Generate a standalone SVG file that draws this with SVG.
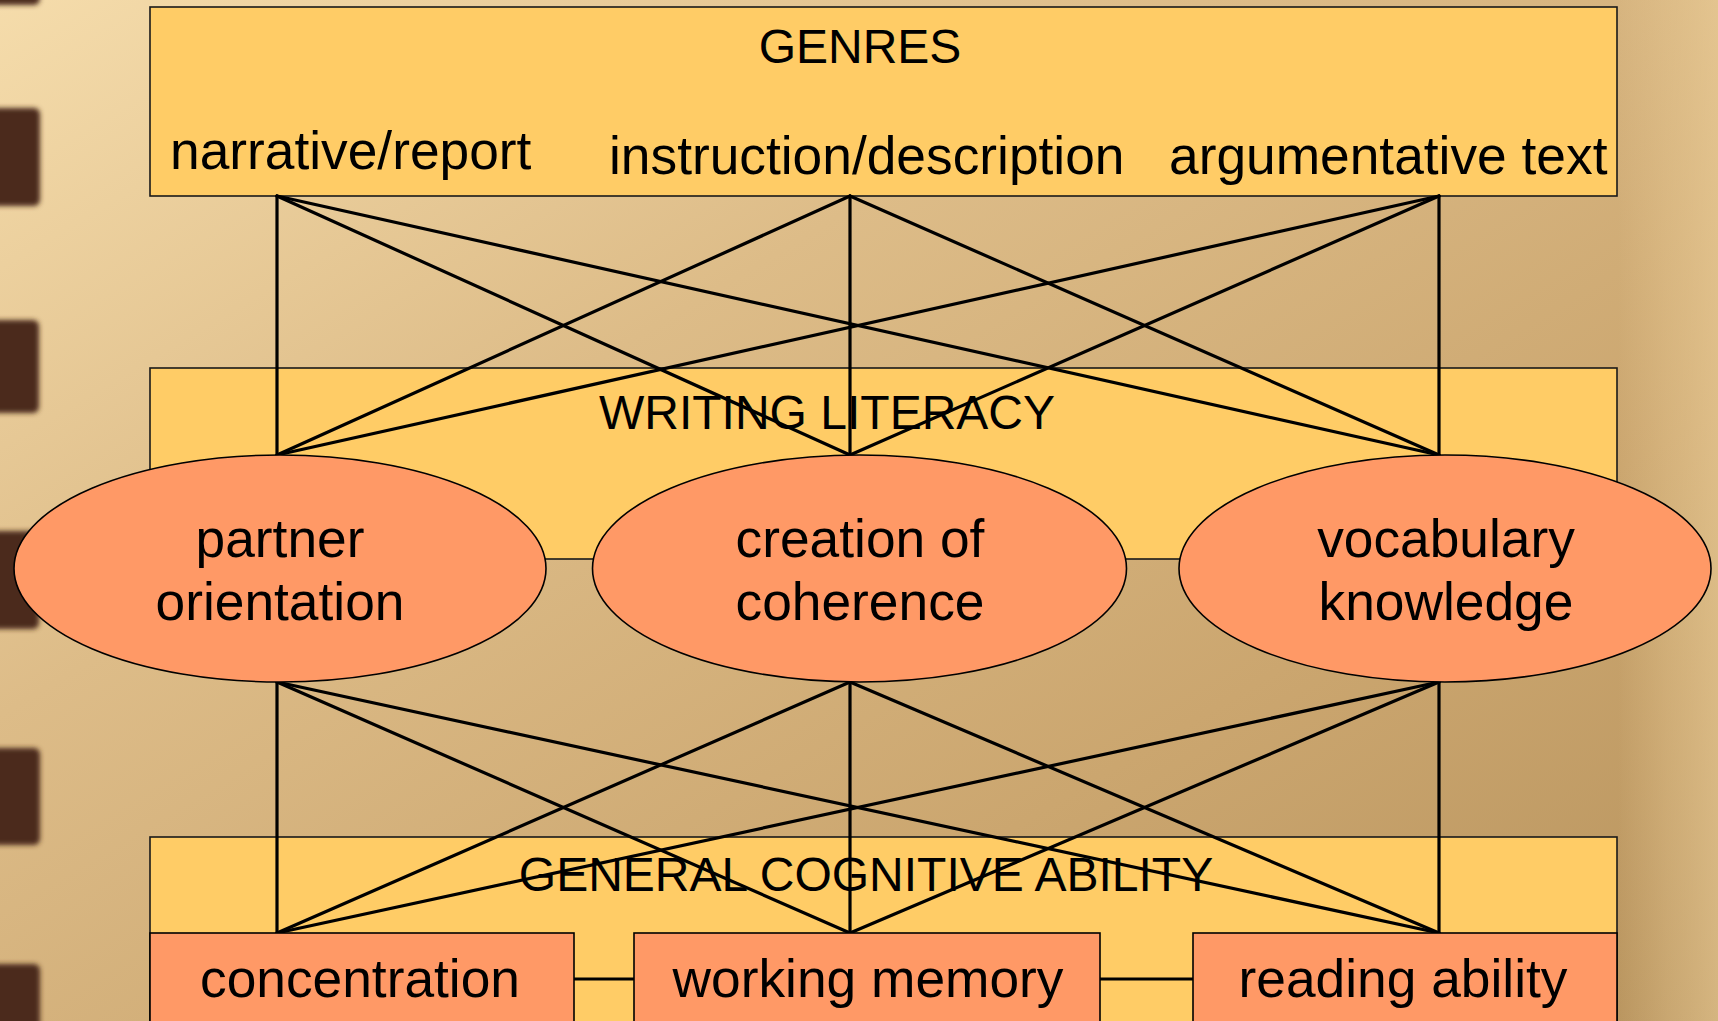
<svg xmlns="http://www.w3.org/2000/svg" width="1718" height="1021" viewBox="0 0 1718 1021">
  <defs>
    <linearGradient id="paper" x1="0" y1="0" x2="1" y2="1">
      <stop offset="0" stop-color="#F5DCAB"/>
      <stop offset="0.35" stop-color="#DDBC88"/>
      <stop offset="0.7" stop-color="#CBA66F"/>
      <stop offset="1" stop-color="#B8945E"/>
    </linearGradient>
    <linearGradient id="edge" x1="0" y1="0" x2="1" y2="0">
      <stop offset="0" stop-color="#EED19C" stop-opacity="0"/>
      <stop offset="0.5" stop-color="#EED19C" stop-opacity="0.3"/>
      <stop offset="1" stop-color="#F2D6A2" stop-opacity="0.5"/>
    </linearGradient>
    <filter id="soft" x="-20%" y="-20%" width="140%" height="140%">
      <feGaussianBlur stdDeviation="2.5"/>
    </filter>
    <style>
      .box { fill: #FFCC66; stroke: #1A1A1A; stroke-width: 1.6; }
      .factor { fill: #FF9966; stroke: #000; stroke-width: 1.6; }
      .head { font-family: "Liberation Sans", Arial, sans-serif; font-size: 48px; fill: #000; text-anchor: middle; }
      .lbl { font-family: "Liberation Sans", Arial, sans-serif; font-size: 53.3px; fill: #000; }
      .mid { text-anchor: middle; }
      .conn line { stroke: #000; stroke-width: 3.2; stroke-linecap: round; }
      .hole { fill: #4C2C1E; }
    </style>
  </defs>

  <!-- paper background -->
  <rect x="0" y="0" width="1718" height="1021" fill="url(#paper)"/>
  <rect x="1618" y="0" width="100" height="1021" fill="url(#edge)"/>

  <!-- binder holes along the left edge -->
  <g filter="url(#soft)">
    <rect class="hole" x="-10" y="-110" width="50" height="115" rx="6"/>
    <rect class="hole" x="-10" y="108" width="50" height="98" rx="6"/>
    <rect class="hole" x="-10" y="320" width="49" height="93" rx="6"/>
    <rect class="hole" x="-10" y="531" width="49" height="98" rx="6"/>
    <rect class="hole" x="-10" y="748" width="50" height="97" rx="6"/>
    <rect class="hole" x="-10" y="964" width="50" height="80" rx="6"/>
  </g>

  <!-- GENRES level -->
  <g id="genres">
    <rect class="box" x="150" y="7" width="1467" height="189"/>
    <text class="head" x="860" y="63">GENRES</text>
    <text class="lbl" x="170" y="169">narrative/report</text>
    <text class="lbl" x="609" y="174">instruction/description</text>
    <text class="lbl" x="1169" y="174">argumentative text</text>
  </g>

  <!-- WRITING LITERACY level -->
  <g id="writing-literacy">
    <rect class="box" x="150" y="368" width="1467" height="191"/>
    <text class="head" x="827" y="429">WRITING LITERACY</text>
  </g>

  <!-- GENERAL COGNITIVE ABILITY level -->
  <g id="cognitive-ability">
    <rect class="box" x="150" y="837" width="1467" height="210"/>
    <text class="head" x="866" y="891">GENERAL COGNITIVE ABILITY</text>
  </g>

  <!-- connectors -->
  <g id="connectors" class="conn">
    <!-- genres to writing components -->
    <line x1="277" y1="196" x2="277" y2="455"/>
    <line x1="277" y1="196" x2="850" y2="455"/>
    <line x1="277" y1="196" x2="1439" y2="455"/>
    <line x1="850" y1="196" x2="277" y2="455"/>
    <line x1="850" y1="196" x2="850" y2="455"/>
    <line x1="850" y1="196" x2="1439" y2="455"/>
    <line x1="1439" y1="196" x2="277" y2="455"/>
    <line x1="1439" y1="196" x2="850" y2="455"/>
    <line x1="1439" y1="196" x2="1439" y2="455"/>
    <!-- writing components to cognitive abilities -->
    <line x1="277" y1="682" x2="277" y2="933"/>
    <line x1="277" y1="682" x2="850" y2="933"/>
    <line x1="277" y1="682" x2="1439" y2="933"/>
    <line x1="850" y1="682" x2="277" y2="933"/>
    <line x1="850" y1="682" x2="850" y2="933"/>
    <line x1="850" y1="682" x2="1439" y2="933"/>
    <line x1="1439" y1="682" x2="277" y2="933"/>
    <line x1="1439" y1="682" x2="850" y2="933"/>
    <line x1="1439" y1="682" x2="1439" y2="933"/>
    <!-- links between cognitive abilities -->
    <line x1="574" y1="979" x2="634" y2="979"/>
    <line x1="1100" y1="979" x2="1193" y2="979"/>
  </g>

  <!-- writing components -->
  <g id="partner-orientation">
    <ellipse class="factor" cx="280" cy="568.5" rx="266" ry="113.5"/>
    <text class="lbl mid" x="280" y="557">partner</text>
    <text class="lbl mid" x="280" y="620">orientation</text>
  </g>
  <g id="creation-of-coherence">
    <ellipse class="factor" cx="859.5" cy="568.5" rx="267" ry="113.5"/>
    <text class="lbl mid" x="860" y="557">creation of</text>
    <text class="lbl mid" x="860" y="620">coherence</text>
  </g>
  <g id="vocabulary-knowledge">
    <ellipse class="factor" cx="1445" cy="568.5" rx="266" ry="113.5"/>
    <text class="lbl mid" x="1446" y="557">vocabulary</text>
    <text class="lbl mid" x="1446" y="620">knowledge</text>
  </g>

  <!-- cognitive abilities -->
  <g id="concentration">
    <rect class="factor" x="150" y="933" width="424" height="110"/>
    <text class="lbl mid" x="360" y="997">concentration</text>
  </g>
  <g id="working-memory">
    <rect class="factor" x="634" y="933" width="466" height="110"/>
    <text class="lbl mid" x="868" y="997">working memory</text>
  </g>
  <g id="reading-ability">
    <rect class="factor" x="1193" y="933" width="424" height="110"/>
    <text class="lbl mid" x="1403" y="997">reading ability</text>
  </g>
</svg>
